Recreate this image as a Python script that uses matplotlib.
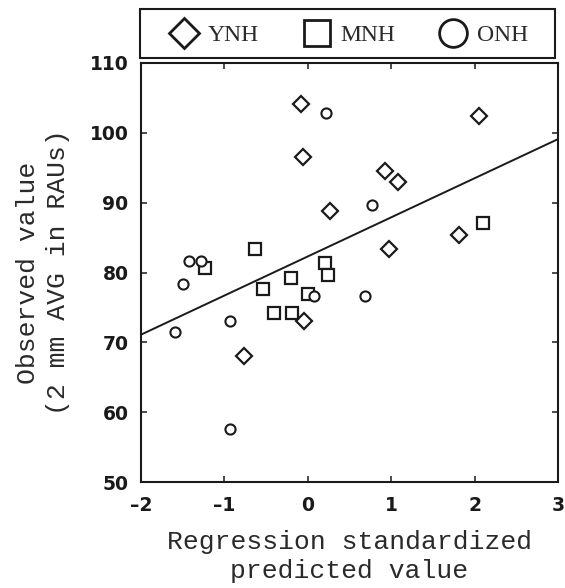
import numpy as np
import matplotlib
matplotlib.use("Agg")
import matplotlib.pyplot as plt
from matplotlib.lines import Line2D
from matplotlib.patches import Rectangle

# --- data ---
ynh_x = [-0.08, -0.06, 0.92, 1.08, 0.27, 2.05, 1.81, 0.97, -0.04, -0.77]
ynh_y = [104.1, 96.6, 94.6, 92.9, 88.8, 102.4, 85.4, 83.4, 73.0, 68.0]

mnh_x = [-0.63, -1.23, 0.21, 0.24, -0.20, -0.54, 0.00, -0.40, -0.19, 2.10]
mnh_y = [83.4, 80.7, 81.4, 79.6, 79.2, 77.6, 76.9, 74.2, 74.2, 87.1]

onh_x = [0.22, 0.77, -1.43, -1.28, -1.50, 0.08, 0.69, -1.59, -0.93, -0.93]
onh_y = [102.9, 89.6, 81.7, 81.7, 78.4, 76.6, 76.6, 71.5, 73.0, 57.6]

fit_intercept = 82.3
fit_slope = 5.6

groups = ["YNH", "MNH", "ONH"]
x_ticks = [-2, -1, 0, 1, 2, 3]
y_ticks = [50, 60, 70, 80, 90, 100, 110]

ink = "#1a1a1a"
W, H = 565, 588

fig = plt.figure(figsize=(W / 100, H / 100), dpi=100)
ax = fig.add_axes([141 / W, 1 - 482 / H, (558 - 141) / W, (482 - 63) / H])

ax.plot(ynh_x, ynh_y, "D", ms=8.2, mfc="white", mec=ink, mew=1.6, ls="none", zorder=3)
ax.plot(mnh_x, mnh_y, "s", ms=8.5, mfc="white", mec=ink, mew=1.6, ls="none", zorder=3)
ax.plot(onh_x, onh_y, "o", ms=7.3, mfc="white", mec=ink, mew=1.5, ls="none", zorder=3)

xl = np.array([x_ticks[0], x_ticks[-1]])
ax.plot(xl, fit_intercept + fit_slope * xl, color=ink, lw=1.4, zorder=2)

ax.set_xlim(x_ticks[0], x_ticks[-1])
ax.set_ylim(y_ticks[0], y_ticks[-1])
ax.set_xticks(x_ticks)
ax.set_yticks(y_ticks)
ax.set_xticklabels([str(t).replace("-", "\u2013") for t in x_ticks])

for sp in ax.spines.values():
    sp.set_linewidth(1.5)
    sp.set_color(ink)

ax.tick_params(direction="in", length=4.5, width=1.1, color=ink,
               top=True, right=True, labelsize=13.5)
ax.tick_params(axis="x", pad=10)
ax.tick_params(axis="y", pad=9)
for lab in ax.get_xticklabels() + ax.get_yticklabels():
    lab.set_fontfamily("DejaVu Sans")
    lab.set_fontweight("bold")
    lab.set_color(ink)

mono = dict(family="Liberation Mono", fontsize=19, color="#2a2a2a")
ax.set_xlabel("Regression standardized\npredicted value", labelpad=11,
              linespacing=1.25, **mono)
ax.set_ylabel("Observed value\n(2 mm AVG in RAUs)", labelpad=14,
              linespacing=1.35, **mono)

# legend box across the top
fig.patches.append(Rectangle((140 / W, 1 - 58 / H), (555 - 140) / W, 49 / H,
                             transform=fig.transFigure, fill=False,
                             edgecolor=ink, linewidth=1.5))
handles = [
    Line2D([], [], marker="D", ms=15, mfc="white", mec=ink, mew=2, ls="none"),
    Line2D([], [], marker="s", ms=19, mfc="white", mec=ink, mew=2, ls="none"),
    Line2D([], [], marker="o", ms=20, mfc="white", mec=ink, mew=2, ls="none"),
]
leg = fig.legend(handles, groups, loc="center", ncol=3,
                 bbox_to_anchor=(350 / W, 1 - 35 / H),
                 frameon=False, borderaxespad=0, borderpad=0,
                 handletextpad=0.5, handlelength=1.0, columnspacing=1.95,
                 prop={"family": "Liberation Serif", "size": 17})
for t in leg.get_texts():
    t.set_color("#2a2a2a")

fig.savefig("out.png", dpi=100)
